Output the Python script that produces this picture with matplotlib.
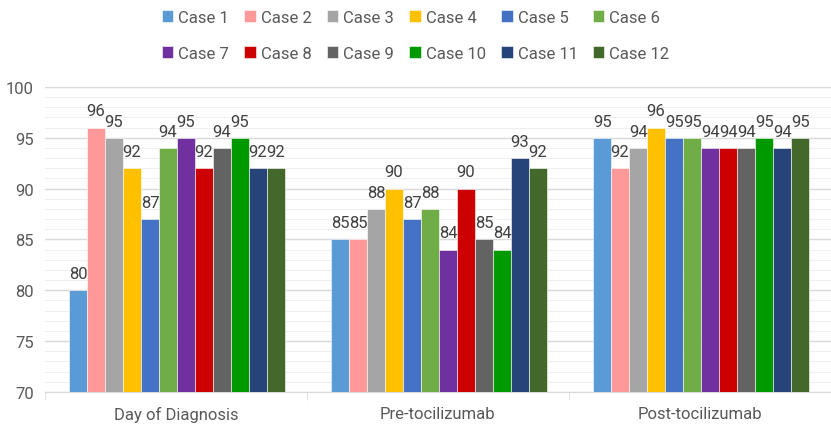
import matplotlib.pyplot as plt
import numpy as np
from matplotlib.ticker import MultipleLocator

plt.rcParams['font.family'] = ['Roboto', 'DejaVu Sans']

categories = ['Day of Diagnosis', 'Pre-tocilizumab', 'Post-tocilizumab']
cases = ['Case %d' % i for i in range(1, 13)]
values = {
    'Case 1': [80, 85, 95],
    'Case 2': [96, 85, 92],
    'Case 3': [95, 88, 94],
    'Case 4': [92, 90, 96],
    'Case 5': [87, 87, 95],
    'Case 6': [94, 88, 95],
    'Case 7': [95, 84, 94],
    'Case 8': [92, 90, 94],
    'Case 9': [94, 85, 94],
    'Case 10': [95, 84, 95],
    'Case 11': [92, 93, 94],
    'Case 12': [92, 92, 95],
}
colors = ['#5b9bd5', '#ff9999', '#a5a5a5', '#ffc000', '#4472c4', '#70ad47',
          '#7030a0', '#cc0000', '#636363', '#009900', '#264478', '#43682b']

textcolor = '#595959'
fs = 12
fig = plt.figure(figsize=(8.31, 4.27), dpi=100)
ax = fig.add_axes([0.054, 0.080, 0.946, 0.714])

x = np.arange(len(categories))
width = 0.0687
handles = []
for i, case in enumerate(cases):
    pos = x - 0.408 + width * (i + 0.5)
    bars = ax.bar(pos, values[case], width=width, color=colors[i],
                  label=case, zorder=3, edgecolor='white', linewidth=0.4)
    handles.append(bars)
    for p, v in zip(pos, values[case]):
        ax.text(p, v + 0.9, str(v), ha='center', va='bottom',
                fontsize=fs, color='#404040', zorder=4)

ax.set_ylim(70, 100)
ax.set_xlim(-0.5, 2.5)
ax.yaxis.set_major_locator(MultipleLocator(5))
ax.yaxis.set_minor_locator(MultipleLocator(1))
ax.grid(axis='y', which='major', color='#d9d9d9', linewidth=1.0, zorder=0)
ax.grid(axis='y', which='minor', color='#efefef', linewidth=0.8, zorder=0)
ax.tick_params(axis='y', which='both', length=0, labelsize=fs,
               labelcolor=textcolor, pad=8)

ax.set_xticks(x)
ax.set_xticklabels(categories)
ax.set_xticks([-0.5, 0.5, 1.5, 2.5], minor=True)
ax.tick_params(axis='x', which='major', length=0, labelsize=fs,
               labelcolor=textcolor, pad=10)
ax.tick_params(axis='x', which='minor', length=6, color='#d9d9d9')

for s in ['top', 'right', 'left']:
    ax.spines[s].set_visible(False)
ax.spines['bottom'].set_color('#d9d9d9')

# legend filled row by row, like the original
order = [0, 6, 1, 7, 2, 8, 3, 9, 4, 10, 5, 11]
fig.legend([handles[k] for k in order], [cases[k] for k in order],
           loc='upper center', bbox_to_anchor=(0.5, 1.01), ncol=6,
           frameon=False, fontsize=fs, labelcolor=textcolor,
           handlelength=0.7, handleheight=0.7, handletextpad=0.3,
           columnspacing=0.9, labelspacing=1.25)

plt.savefig('out.png', dpi=100)
